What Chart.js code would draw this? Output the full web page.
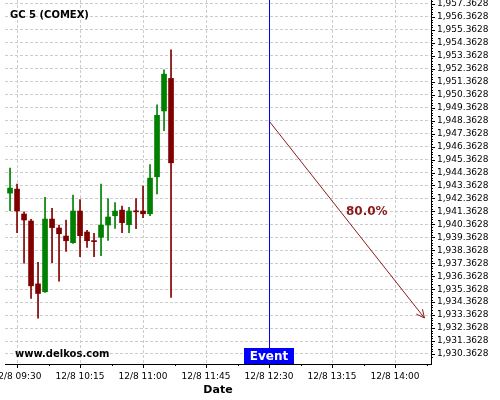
<!DOCTYPE html>
<html><head><meta charset="utf-8">
<script src="https://cdn.jsdelivr.net/npm/chart.js@4/dist/chart.umd.min.js"></script>
<style>html,body{margin:0;padding:0;background:#fff}canvas{display:block}</style>
</head><body>
<canvas id="c" width="500" height="400"></canvas>
<script>
const times = ["09:25","09:30","09:35","09:40","09:45","09:50","09:55","10:00","10:05","10:10","10:15","10:20","10:25","10:30","10:35","10:40","10:45","10:50","10:55","11:00","11:05","11:10","11:15","11:20"];
const opens  = [1942.77,1943.08,1941.16,1940.62,1935.77,1935.16,1940.77,1940.08,1939.46,1938.95,1941.39,1939.77,1939.08,1939.36,1940.31,1941.03,1941.46,1940.33,1941.39,1941.39,1941.18,1944.03,1949.11,1951.62];
const highs  = [1944.70,1943.47,1941.33,1940.75,1937.44,1942.44,1941.59,1940.31,1940.70,1942.62,1942.28,1939.90,1939.67,1943.47,1942.36,1942.05,1941.77,1941.67,1942.36,1943.31,1944.98,1949.59,1952.28,1953.82];
const lows   = [1941.41,1939.72,1937.36,1934.64,1933.13,1935.11,1937.41,1935.98,1938.28,1938.90,1937.87,1938.59,1937.87,1937.95,1939.13,1940.05,1939.72,1939.72,1940.03,1940.87,1941.03,1942.72,1947.59,1934.72];
const closes = [1943.16,1941.39,1940.70,1935.62,1935.03,1940.77,1940.11,1939.64,1939.10,1941.39,1939.49,1939.10,1939.03,1940.31,1940.93,1941.39,1940.49,1941.39,1941.33,1941.18,1943.93,1948.77,1951.95,1945.11];
const eventTime = "12:30";
const arrowTimes = ["12:30","14:21"];
const arrowValues = [1948.34,1933.14];
const arrowLabel = "80.0%";
const xTickTimes = ["09:30","10:15","11:00","11:45","12:30","13:15","14:00"];
const xTickLabels = ["12/8 09:30","12/8 10:15","12/8 11:00","12/8 11:45","12/8 12:30","12/8 13:15","12/8 14:00"];
const yTickValues = [1930.3628,1931.3628,1932.3628,1933.3628,1934.3628,1935.3628,1936.3628,1937.3628,1938.3628,1939.3628,1940.3628,1941.3628,1942.3628,1943.3628,1944.3628,1945.3628,1946.3628,1947.3628,1948.3628,1949.3628,1950.3628,1951.3628,1952.3628,1953.3628,1954.3628,1955.3628,1956.3628,1957.3628];
const yTickLabels = ["1,930.3628","1,931.3628","1,932.3628","1,933.3628","1,934.3628","1,935.3628","1,936.3628","1,937.3628","1,938.3628","1,939.3628","1,940.3628","1,941.3628","1,942.3628","1,943.3628","1,944.3628","1,945.3628","1,946.3628","1,947.3628","1,948.3628","1,949.3628","1,950.3628","1,951.3628","1,952.3628","1,953.3628","1,954.3628","1,955.3628","1,956.3628","1,957.3628"];

// minutes since 09:00
const toMin = s => { const [h,m] = s.split(":").map(Number); return h*60 + m - 540; };
const UP = "#008000", DOWN = "#800000", ARROW = "#8B1A1A";
const colors = opens.map((o,i) => closes[i] >= o ? UP : DOWN);
const xs = times.map(toMin);

const overlay = {
  id: "overlay",
  afterDatasetsDraw(chart) {
    const ctx = chart.ctx, xS = chart.scales.x, yS = chart.scales.y, ca = chart.chartArea;
    ctx.save();
    ctx.strokeStyle = "#000"; ctx.lineWidth = 1;
    ctx.beginPath();
    yTickValues.forEach(v => { const y = Math.round(yS.getPixelForValue(v)) + 0.5; ctx.moveTo(ca.right, y); ctx.lineTo(ca.right + 4, y); });
    for (let v = yTickValues[0] - 0.2; v < yS.max; v += 0.2) {
      if (v < yS.min) continue;
      const y = Math.round(yS.getPixelForValue(v)) + 0.5; ctx.moveTo(ca.right, y); ctx.lineTo(ca.right + 2, y);
    }
    const xt = xTickTimes.map(toMin);
    xt.forEach(v => { const x = Math.round(xS.getPixelForValue(v)) + 0.5; ctx.moveTo(x, ca.bottom); ctx.lineTo(x, ca.bottom + 4); });
    for (let v = xt[0] - 22.5; v < xS.max; v += 45) {
      if (v < xS.min) continue;
      const x = Math.round(xS.getPixelForValue(v)) + 0.5; ctx.moveTo(x, ca.bottom); ctx.lineTo(x, ca.bottom + 2);
    }
    ctx.stroke();
    const ex = Math.round(xS.getPixelForValue(toMin(eventTime))) + 0.5;
    ctx.strokeStyle = "#0000FF";
    ctx.beginPath(); ctx.moveTo(ex, ca.top); ctx.lineTo(ex, ca.bottom); ctx.stroke();
    const x1 = xS.getPixelForValue(toMin(arrowTimes[0])), y1 = yS.getPixelForValue(arrowValues[0]);
    const x2 = xS.getPixelForValue(toMin(arrowTimes[1])), y2 = yS.getPixelForValue(arrowValues[1]);
    const ang = Math.atan2(y2 - y1, x2 - x1), L = 9, a = 0.45;
    ctx.strokeStyle = ARROW;
    ctx.beginPath();
    ctx.moveTo(x2 - L*Math.cos(ang - a), y2 - L*Math.sin(ang - a)); ctx.lineTo(x2, y2);
    ctx.lineTo(x2 - L*Math.cos(ang + a), y2 - L*Math.sin(ang + a));
    ctx.stroke();
    ctx.fillStyle = "#0000FF";
    ctx.fillRect(ex - 25.5, ca.bottom - 16, 50, 16);
    ctx.fillStyle = "#fff"; ctx.font = "bold 12px 'DejaVu Sans'";
    ctx.textAlign = "center"; ctx.textBaseline = "middle";
    ctx.fillText("Event", ex - 0.5, ca.bottom - 7.5);
    ctx.fillStyle = ARROW; ctx.font = "bold 12px 'DejaVu Sans'";
    ctx.textAlign = "left";
    ctx.fillText(arrowLabel, 346, 212);
    ctx.fillStyle = "#000"; ctx.font = "bold 10px 'DejaVu Sans'";
    ctx.fillText("GC 5 (COMEX)", 10, 15);
    ctx.fillText("www.delkos.com", 15, 354);
    ctx.restore();
  }
};

new Chart(document.getElementById("c"), {
  type: "bar",
  data: {
    datasets: [
      { label: "wick", data: xs.map((x,i) => ({x, y:[lows[i], highs[i]]})), backgroundColor: colors, barThickness: 1, grouped: false, order: 2 },
      { label: "body", data: xs.map((x,i) => ({x, y:[opens[i], closes[i]]})), backgroundColor: colors, barThickness: 5, minBarLength: 1, grouped: false, order: 1 },
      { type: "line", label: "arrow", data: arrowTimes.map((t,i) => ({x: toMin(t), y: arrowValues[i]})), borderColor: ARROW, borderWidth: 1, pointRadius: 0, fill: false, order: 0 }
    ]
  },
  options: {
    responsive: false, animation: false, devicePixelRatio: 1,
    layout: { padding: { left: 5, top: 0, right: 0, bottom: 0 } },
    plugins: { legend: { display: false }, tooltip: { enabled: false } },
    scales: {
      x: {
        type: "linear", min: 21.4, max: 325.7, offset: false,
        grid: { color: "#cccccc", drawTicks: false, offset: false },
        border: { display: true, color: "#000", width: 1, dash: [3,2] },
        afterBuildTicks: s => { s.ticks = xTickTimes.map(t => ({ value: toMin(t) })); },
        afterFit: s => { s.height = 36; s.paddingLeft = 0; s.paddingRight = 0; },
        ticks: { autoSkip: false, maxRotation: 0, padding: 7, color: "#000", font: { family: "DejaVu Sans", size: 9 },
          callback: (v, i) => xTickLabels[i] },
        title: { display: true, text: "Date", color: "#000", font: { family: "DejaVu Sans", size: 11, weight: "bold" }, padding: { top: 0, bottom: 3 } }
      },
      y: {
        type: "linear", position: "right", min: 1929.59, max: 1957.67,
        grid: { color: "#cccccc", drawTicks: false },
        border: { display: true, color: "#000", width: 1, dash: [3,2] },
        afterBuildTicks: s => { s.ticks = yTickValues.map(v => ({ value: v })); },
        afterFit: s => { s.width = 69; s.paddingTop = 0; s.paddingBottom = 0; },
        ticks: { autoSkip: false, padding: 6, color: "#000", font: { family: "DejaVu Sans", size: 9 },
          callback: (v, i) => yTickLabels[i] }
      }
    }
  },
  plugins: [overlay]
});
</script>
</body></html>
